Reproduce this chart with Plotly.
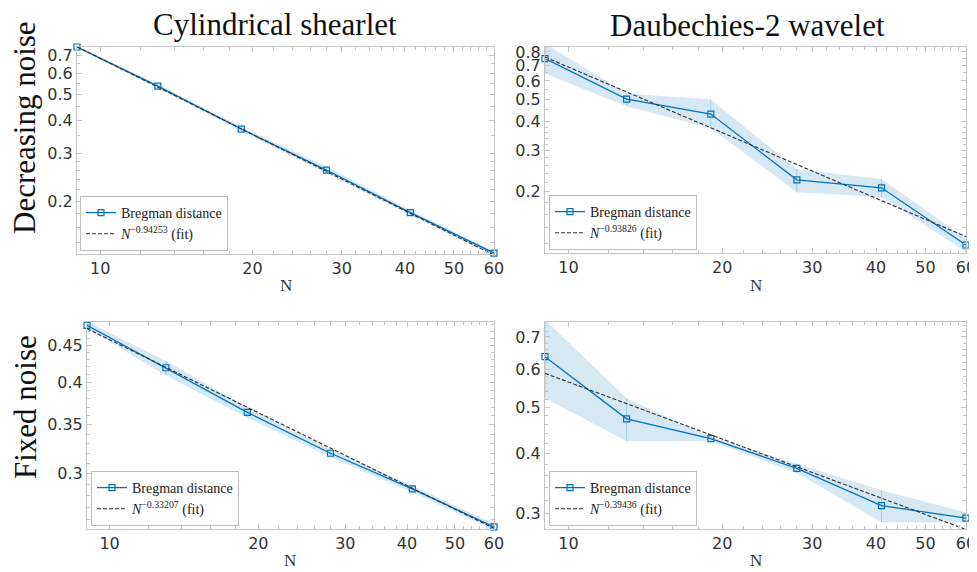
import math
import plotly.graph_objects as go

W, H = 977, 572
OFF = 8  # default page body margin: the figure starts 8px in from the window corner
FW, FH = W - OFF, H - OFF

# ---------------- data ----------------
N = [9, 13, 19, 28, 41, 60]

# Cylindrical shearlet, decreasing noise
cs_dec = [0.750, 0.536, 0.371, 0.261, 0.181, 0.128]
cs_dec_lo = [0.745, 0.528, 0.365, 0.254, 0.177, 0.126]
cs_dec_hi = [0.755, 0.545, 0.378, 0.269, 0.185, 0.130]
cs_dec_fit = [0.752, 0.5317, 0.3717, 0.2580, 0.1801, 0.1258]
cs_dec_exp = "0.94253"

# Daubechies-2, decreasing noise
db_dec = [0.749, 0.501, 0.432, 0.225, 0.208, 0.118]
db_dec_lo = [0.646, 0.467, 0.376, 0.199, 0.190, 0.110]
db_dec_hi = [0.870, 0.530, 0.499, 0.250, 0.227, 0.126]
db_dec_fit = [0.760, 0.5383, 0.3770, 0.2620, 0.1833, 0.1282]
db_dec_exp = "0.93826"

# Cylindrical shearlet, fixed noise
cs_fix = [0.479, 0.419, 0.364, 0.320, 0.286, 0.2537]
cs_fix_lo = [0.474, 0.409, 0.358, 0.316, 0.283, 0.251]
cs_fix_hi = [0.485, 0.428, 0.370, 0.324, 0.289, 0.256]
cs_fix_fit = [0.474, 0.4195, 0.3699, 0.3252, 0.2864, 0.2525]
cs_fix_exp = "0.33207"

# Daubechies-2, fixed noise
db_fix = [0.637, 0.473, 0.430, 0.373, 0.312, 0.294]
db_fix_lo = [0.522, 0.425, 0.425, 0.365, 0.288, 0.288]
db_fix_hi = [0.760, 0.522, 0.434, 0.381, 0.336, 0.302]
db_fix_fit = [0.588, 0.5087, 0.4380, 0.3758, 0.3234, 0.2783]
db_fix_exp = "0.39436"

x_ticks = [10, 20, 30, 40, 50, 60]
x_minor = [12, 14, 16, 18, 22, 24, 26, 28, 32, 34, 36, 38, 42, 44, 46, 48, 52, 54, 56, 58]

col_titles = ["Cylindrical shearlet", "Daubechies-2 wavelet"]
row_titles = ["Decreasing noise", "Fixed noise"]

panels = [
    dict(y=cs_dec, lo=cs_dec_lo, hi=cs_dec_hi, fit=cs_dec_fit, exp=cs_dec_exp,
         yr=(0.127, 0.75), yt=[0.2, 0.3, 0.4, 0.5, 0.6, 0.7],
         ym=[0.14, 0.16, 0.18, 0.22, 0.24, 0.26, 0.28, 0.35, 0.45, 0.55, 0.65],
         box=(77, 494, 47, 254), leg=(80, 251)),
    dict(y=db_dec, lo=db_dec_lo, hi=db_dec_hi, fit=db_dec_fit, exp=db_dec_exp,
         yr=(0.109, 0.84), yt=[0.2, 0.3, 0.4, 0.5, 0.6, 0.7, 0.8],
         ym=[0.12, 0.14, 0.16, 0.18, 0.22, 0.24, 0.26, 0.28, 0.32, 0.34, 0.36, 0.38, 0.45, 0.55, 0.65, 0.75],
         box=(545, 966, 47, 253), leg=(549, 250)),
    dict(y=cs_fix, lo=cs_fix_lo, hi=cs_fix_hi, fit=cs_fix_fit, exp=cs_fix_exp,
         yr=(0.252, 0.484), yt=[0.3, 0.35, 0.4, 0.45],
         ym=[0.26, 0.27, 0.28, 0.29, 0.31, 0.32, 0.33, 0.34, 0.36, 0.37, 0.38, 0.39,
             0.41, 0.42, 0.43, 0.44, 0.46, 0.47, 0.48],
         box=(87, 494, 322, 529), leg=(91, 526)),
    dict(y=db_fix, lo=db_fix_lo, hi=db_fix_hi, fit=db_fix_fit, exp=db_fix_exp,
         yr=(0.279, 0.752), yt=[0.3, 0.4, 0.5, 0.6, 0.7],
         ym=[0.28, 0.32, 0.34, 0.36, 0.38, 0.42, 0.44, 0.46, 0.48, 0.52, 0.54, 0.56, 0.58,
             0.62, 0.64, 0.66, 0.68, 0.72, 0.74],
         box=(545, 966, 322, 529), leg=(549, 526)),
]

BLUE = "#0072BD"
BAND = "rgba(0,114,189,0.16)"
AXC = "#c4c4c4"
TXT = "#333333"
SERIF = "Liberation Serif"
SANS = "DejaVu Sans"


def px(x):
    return (x - OFF) / FW


def py(y):
    return 1 - (y - OFF) / FH


fig = go.Figure()
layout = dict(width=FW, height=FH, margin=dict(l=0, r=0, t=0, b=0, pad=0, autoexpand=False),
              paper_bgcolor="white", plot_bgcolor="white", showlegend=True)

for i, p in enumerate(panels, start=1):
    sfx = "" if i == 1 else str(i)
    xa, ya = "x" + sfx, "y" + sfx
    leg = "legend" if i == 1 else "legend" + str(i)
    # band
    fig.add_trace(go.Scatter(x=N, y=p["lo"], xaxis=xa, yaxis=ya, mode="lines",
                             line=dict(width=0, color=BAND), showlegend=False,
                             hoverinfo="skip", legend=leg))
    fig.add_trace(go.Scatter(x=N, y=p["hi"], xaxis=xa, yaxis=ya, mode="lines",
                             line=dict(width=0, color=BAND), fill="tonexty",
                             fillcolor=BAND, showlegend=False, hoverinfo="skip", legend=leg))
    # faint vertical segments at the sample points
    fig.add_trace(go.Scatter(x=N, y=p["y"], xaxis=xa, yaxis=ya, mode="markers",
                             marker=dict(size=0.1, color="rgba(0,0,0,0)"),
                             error_y=dict(type="data", symmetric=False,
                                          array=[h - v for h, v in zip(p["hi"], p["y"])],
                                          arrayminus=[v - l for l, v in zip(p["lo"], p["y"])],
                                          width=0, thickness=0.7,
                                          color="rgba(0,114,189,0.35)"),
                             showlegend=False, hoverinfo="skip", legend=leg))
    # data
    fig.add_trace(go.Scatter(x=N, y=p["y"], xaxis=xa, yaxis=ya, mode="lines+markers",
                             name="Bregman distance",
                             line=dict(color=BLUE, width=1.3),
                             marker=dict(symbol="square-open", size=6, color=BLUE,
                                         line=dict(width=1.2, color=BLUE)),
                             cliponaxis=False, legend=leg))
    # fit
    fig.add_trace(go.Scatter(x=N, y=p["fit"], xaxis=xa, yaxis=ya, mode="lines",
                             name="<i>N</i><sup>\u22120" + p["exp"][1:] + "</sup> (fit)",
                             line=dict(color="#303030", width=1.1, dash="4px,2px"),
                             legend=leg))

    x0, x1, y0, y1 = p["box"]
    common = dict(showline=True, linecolor=AXC, linewidth=1, mirror="allticks",
                  ticks="inside", ticklen=5, tickcolor=AXC, showgrid=False,
                  zeroline=False, automargin=False,
                  tickfont=dict(family=SANS, size=16, color=TXT))
    layout["xaxis" + sfx] = dict(common, type="log", domain=[px(x0), px(x1)],
                                 anchor=ya, range=[math.log10(9), math.log10(60)],
                                 tickvals=x_ticks, ticktext=[str(t) for t in x_ticks],
                                 minor=dict(tickvals=x_minor, ticks="inside", ticklen=3,
                                            tickcolor=AXC, showgrid=False))
    layout["yaxis" + sfx] = dict(common, type="log", domain=[py(y1), py(y0)],
                                 anchor=xa, range=[math.log10(p["yr"][0]), math.log10(p["yr"][1])],
                                 tickvals=p["yt"], ticktext=[f"{t:g}" for t in p["yt"]],
                                 minor=dict(tickvals=p["ym"], ticks="inside", ticklen=3,
                                            tickcolor=AXC, showgrid=False))
    lx, ly = p["leg"]
    layout[leg] = dict(x=px(lx), y=py(ly), xanchor="left", yanchor="bottom",
                       bgcolor="white", bordercolor="#bdbdbd", borderwidth=1,
                       font=dict(family=SERIF, size=14, color="#222222"),
                       itemwidth=30, tracegroupgap=0, traceorder="normal",
                       entrywidth=95, entrywidthmode="pixels")

TFONT = dict(family=SERIF, size=31, color="#111111")
annotations = []
annotations.append(dict(x=px(275), y=py(24), text=col_titles[0], showarrow=False,
                        xref="paper", yref="paper", xanchor="center", yanchor="middle",
                        font=TFONT))
annotations.append(dict(x=px(747), y=py(26), text=col_titles[1], showarrow=False,
                        xref="paper", yref="paper", xanchor="center", yanchor="middle",
                        font=TFONT))
annotations.append(dict(x=px(25), y=py(128), text=row_titles[0], showarrow=False,
                        xref="paper", yref="paper", textangle=-90,
                        xanchor="center", yanchor="middle", font=TFONT))
annotations.append(dict(x=px(25), y=py(407), text=row_titles[1], showarrow=False,
                        xref="paper", yref="paper", textangle=-90,
                        xanchor="center", yanchor="middle", font=TFONT))
for (nx, ny) in [(286, 285), (756, 285), (290, 560), (756, 560)]:
    annotations.append(dict(x=px(nx), y=py(ny), text="N", showarrow=False,
                            xref="paper", yref="paper", xanchor="center", yanchor="middle",
                            font=dict(family=SERIF, size=17, color=TXT)))
layout["annotations"] = annotations

fig.update_layout(**layout)
fig.write_html("out.html")
